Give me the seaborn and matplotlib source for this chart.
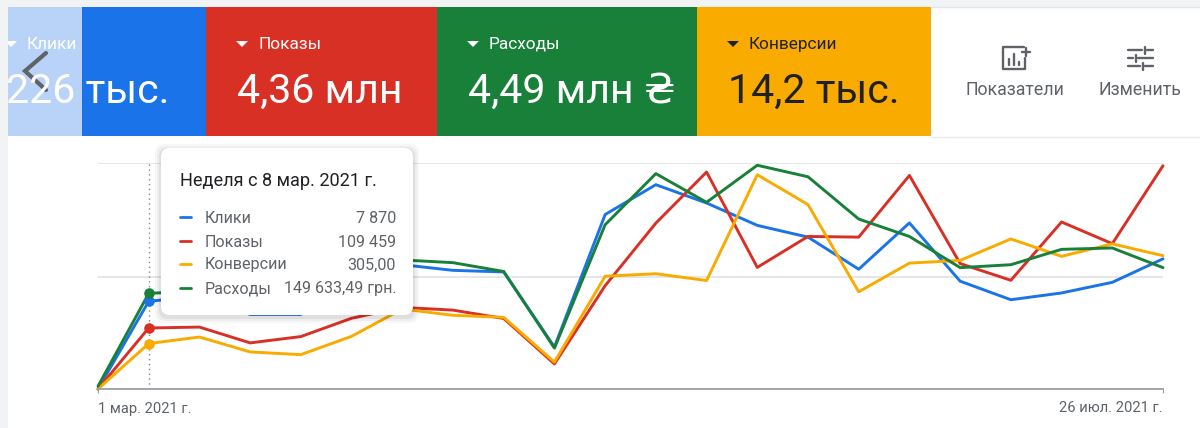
# google ads overview chart with metric cards and hover tooltip

import pandas as pd
import matplotlib.pyplot as plt
import seaborn as sns
from matplotlib.patches import Rectangle, FancyBboxPatch, Polygon

# weekly values, as percent of the chart height (each metric has its own hidden scale)
weeks = ['2021-03-01', '2021-03-08', '2021-03-15', '2021-03-22', '2021-03-29', '2021-04-05',
         '2021-04-12', '2021-04-19', '2021-04-26', '2021-05-03', '2021-05-10', '2021-05-17',
         '2021-05-24', '2021-05-31', '2021-06-07', '2021-06-14', '2021-06-21', '2021-06-28',
         '2021-07-05', '2021-07-12', '2021-07-19', '2021-07-26']
clicks = [0, 38.8, 41, 33, 33, 45.7, 55, 52.5, 51.8, 18.6, 77.2, 90.4, 82.3, 72.4, 67.2, 53, 73.5, 47.7, 39.5, 42.5, 47.2, 57.6]
shows = [0, 27, 27.4, 20.4, 23.2, 31.3, 36.1, 34.9, 31.2, 11.1, 45.7, 73.4, 96, 53.8, 67.5, 67.2, 94.5, 55.5, 48.1, 73.9, 64.3, 98.8]
convs = [0, 20.1, 23, 16.4, 15.2, 23.3, 35.4, 32.6, 31.7, 11.9, 49.9, 51, 48, 94.8, 81.6, 43, 55.7, 56.9, 66.4, 58.7, 64.2, 59]
costs = [1.2, 42.3, 43.5, 40, 41.5, 50, 57.1, 55.9, 52, 18.1, 72.7, 95.3, 82.6, 99, 93.9, 75.2, 67.5, 53.7, 55, 61.8, 62.4, 53.7]

names = ['Клики', 'Показы', 'Конверсии', 'Расходы']
colors = ['#1a73e8', '#d93025', '#f9ab00', '#188038']
tip_title = 'Неделя с 8 мар. 2021 г.'
tip_values = ['7 870', '109 459', '305,00', '149 633,49 грн.']
tick_labels = ['1 мар. 2021 г.', '26 июл. 2021 г.']
hover = 1

sns.set_theme(style='white')
plt.rcParams['font.family'] = ['Roboto', 'DejaVu Sans']

W, H = 1200, 428
fig = plt.figure(figsize=(W / 100, H / 100), dpi=100, facecolor='white')

# line chart
ax = fig.add_axes([98 / W, 1 - 389 / H, (1163 - 98) / W, (389 - 163) / H])
df = pd.DataFrame({'week': pd.to_datetime(weeks), names[0]: clicks, names[1]: shows,
                   names[2]: convs, names[3]: costs})
long_df = df.melt('week', var_name='metric', value_name='value')
sns.lineplot(data=long_df, x='week', y='value', hue='metric', hue_order=names,
             palette=colors, estimator=None, linewidth=2.1, legend=False, ax=ax, clip_on=False)

ax.set_xlim(df['week'].iloc[0], df['week'].iloc[-1])
ax.set_ylim(0, 100)
ax.set_yticks([0, 49.5, 100])
ax.set_yticklabels([])
ax.grid(axis='y', color='#e0e2e5', linewidth=1.2)
ax.grid(axis='x', visible=False)
ax.set_axisbelow(True)
ax.set_xlabel('')
ax.set_ylabel('')
for side in ['top', 'left', 'right']:
    ax.spines[side].set_visible(False)
ax.spines['bottom'].set_color('#9aa0a6')
ax.spines['bottom'].set_linewidth(1.3)
ax.set_xticks([df['week'].iloc[0], df['week'].iloc[-1]])
ax.set_xticklabels(tick_labels, fontsize=10.6, color='#5f6368')
ax.tick_params(axis='x', length=3, width=0.8, color='#9aa0a6', pad=6, bottom=True)
tl = ax.get_xticklabels()
tl[0].set_ha('left')
tl[1].set_ha('right')

# hovered week
ax.axvline(df['week'].iloc[hover], color='#80868b', linewidth=1, linestyle=(0, (1, 2.5)), zorder=1)
for name, c in zip(names, colors):
    ax.scatter(df['week'].iloc[hover], df[name].iloc[hover], s=58, color=c, zorder=5,
               clip_on=False, linewidths=0)

# overlay in pixel coordinates for cards and tooltip
ov = fig.add_axes([0, 0, 1, 1], zorder=10)
ov.set_xlim(0, W)
ov.set_ylim(H, 0)
ov.axis('off')
ov.patch.set_alpha(0)

ov.add_patch(Rectangle((0, 0), W, 7, color='#f1f3f4', lw=0))
ov.add_patch(Rectangle((0, 0), 8, H, color='#f1f3f4', lw=0))
ov.plot([931, W], [136.5, 136.5], color='#e8eaed', lw=1)
ov.plot([931, W], [7, 7], color='#e3e5e8', lw=1)

ov.add_patch(Rectangle((8, 7), 74, 129, color='#b8d3f7', lw=0))
ov.add_patch(Rectangle((82, 7), 124, 129, color=colors[0], lw=0))
ov.add_patch(Rectangle((206, 7), 231, 129, color=colors[1], lw=0))
ov.add_patch(Rectangle((437, 7), 260, 129, color=colors[3], lw=0))
ov.add_patch(Rectangle((697, 7), 234, 129, color=colors[2], lw=0))

cards = [(27, 'Клики', '226 тыс.', 6, 'white'),
         (258, 'Показы', '4,36 млн', 237, 'white'),
         (489, 'Расходы', '4,49 млн ₴', 468, 'white'),
         (749, 'Конверсии', '14,2 тыс.', 728, '#202124')]
clip = Rectangle((8, 7), W, 129, transform=ov.transData)
for lx, label, value, vx, c in cards:
    t = ov.text(lx, 44, label, fontsize=12.4, color=c, va='center', ha='left')
    t.set_clip_path(clip)
    t = ov.text(vx, 91, value, fontsize=29.6, color=c, va='center', ha='left')
    t.set_clip_path(clip)
    tri = Polygon([[lx - 22, 41], [lx - 10, 41], [lx - 16, 47]], color=c, lw=0)
    ov.add_patch(tri)
    tri.set_clip_path(clip)

# previous arrow
ov.plot([46, 25, 46], [53, 71, 90], color='#5f6368', lw=3, solid_joinstyle='miter')

# right side buttons
ov.text(1015, 90, 'Показатели', fontsize=12.8, color='#5f6368', ha='center', va='center')
ov.text(1140, 90, 'Изменить', fontsize=12.8, color='#5f6368', ha='center', va='center')
ico = '#5f6368'
ov.plot([1024, 1003, 1003, 1025, 1025], [47, 47, 69, 69, 58], color=ico, lw=1.7)
for bx, by in [(1009, 59), (1014, 54), (1019, 62)]:
    ov.plot([bx, bx], [by, 65], color=ico, lw=1.7)
ov.plot([1022, 1030], [52, 52], color=ico, lw=1.7)
ov.plot([1026, 1026], [48, 56], color=ico, lw=1.7)
for sy, kx in [(50, 1145), (58, 1136), (66, 1143)]:
    ov.plot([1128, kx - 3], [sy, sy], color=ico, lw=1.7)
    ov.plot([kx + 2, 1153], [sy, sy], color=ico, lw=1.7)
    ov.plot([kx, kx], [sy - 3.5, sy + 3.5], color=ico, lw=1.7)

# tooltip
for grow, a in [(6, 0.03), (4, 0.04), (2, 0.06)]:
    ov.add_patch(FancyBboxPatch((169 - grow, 156 - grow + 2), 236 + 2 * grow, 151 + 2 * grow,
                                boxstyle='round,pad=8,rounding_size=9', fc='black', ec='none', alpha=a))
ov.add_patch(FancyBboxPatch((169, 156), 236, 151, boxstyle='round,pad=8,rounding_size=9',
                            fc='white', ec='none'))
ov.text(180, 181, tip_title, fontsize=13.1, color='#202124', va='center', ha='left')
row_y = [218, 242, 265, 289]
for y, name, val, c in zip(row_y, names, tip_values, colors):
    ov.plot([180, 191], [y - 1, y - 1], color=c, lw=2, solid_capstyle='round')
    ov.text(205, y, name, fontsize=11.6, color='#5f6368', va='center', ha='left')
    ov.text(396, y, val, fontsize=11.6, color='#5f6368', va='center', ha='right')

fig.savefig('out.png', dpi=100)
